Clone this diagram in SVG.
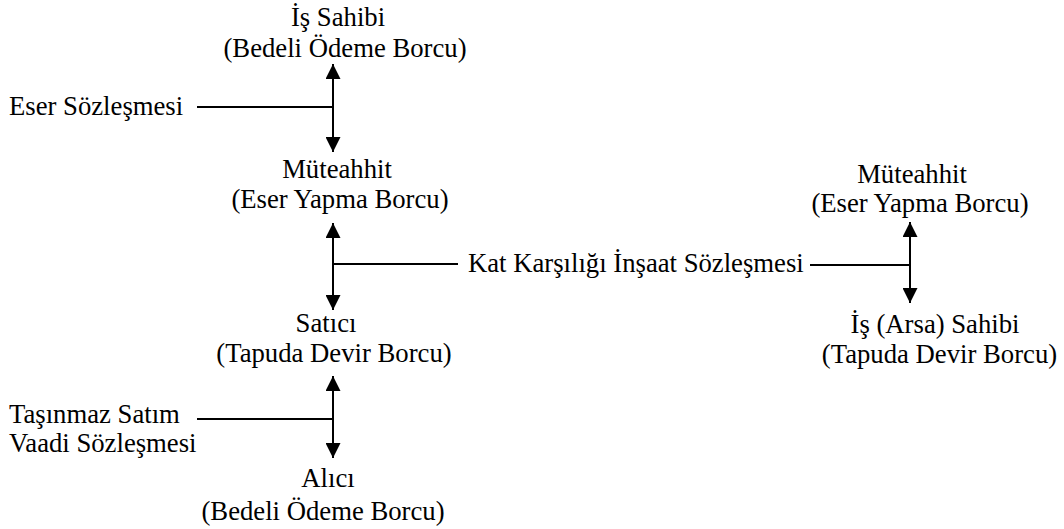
<svg xmlns="http://www.w3.org/2000/svg" width="1064" height="529" viewBox="0 0 1064 529">
<style>
text{font-size:26.7px;fill:#000}
.c{text-anchor:middle}
.ln{stroke:#000;stroke-width:2;fill:none}
</style>
<defs>
<marker id="ah" viewBox="0 0 10 10" refX="10" refY="5" markerWidth="7.5" markerHeight="7.5" markerUnits="strokeWidth" orient="auto-start-reverse">
<path d="M0,0 L10,5 L0,10 Z" fill="#000"/>
</marker>
</defs>
<rect width="1064" height="529" fill="#fff"/>
<g id="connectors">
<line class="ln" x1="333" y1="64" x2="333" y2="152" marker-start="url(#ah)" marker-end="url(#ah)"/>
<line class="ln" x1="197" y1="107" x2="333" y2="107"/>
<line class="ln" x1="333" y1="223" x2="333" y2="310" marker-start="url(#ah)" marker-end="url(#ah)"/>
<line class="ln" x1="333" y1="264" x2="458" y2="264"/>
<line class="ln" x1="810" y1="265" x2="910" y2="265"/>
<line class="ln" x1="910" y1="222" x2="910" y2="303" marker-start="url(#ah)" marker-end="url(#ah)"/>
<line class="ln" x1="333" y1="376" x2="333" y2="458" marker-start="url(#ah)" marker-end="url(#ah)"/>
<line class="ln" x1="197" y1="419" x2="333" y2="419"/>
</g>
<g font-family="Liberation Serif, Times New Roman, serif">
<g id="is-sahibi"><text class="c" x="338" y="26">İş Sahibi</text><text class="c" x="345" y="57">(Bedeli Ödeme Borcu)</text></g>
<g id="eser-sozlesmesi"><text x="9" y="115">Eser Sözleşmesi</text></g>
<g id="muteahhit-1"><text class="c" x="337" y="178">Müteahhit</text><text class="c" x="340" y="208">(Eser Yapma Borcu)</text></g>
<g id="kat-karsiligi"><text x="468" y="272">Kat Karşılığı İnşaat Sözleşmesi</text></g>
<g id="satici"><text class="c" x="326" y="332">Satıcı</text><text class="c" x="334" y="362">(Tapuda Devir Borcu)</text></g>
<g id="tasinmaz"><text x="9" y="423">Taşınmaz Satım</text><text x="9" y="452">Vaadi Sözleşmesi</text></g>
<g id="alici"><text class="c" x="328" y="487">Alıcı</text><text class="c" x="323" y="520">(Bedeli Ödeme Borcu)</text></g>
<g id="muteahhit-2"><text class="c" x="912" y="183">Müteahhit</text><text class="c" x="920" y="212">(Eser Yapma Borcu)</text></g>
<g id="arsa-sahibi"><text class="c" x="935" y="333">İş (Arsa) Sahibi</text><text class="c" x="939.5" y="363">(Tapuda Devir Borcu)</text></g>
</g>
</svg>
